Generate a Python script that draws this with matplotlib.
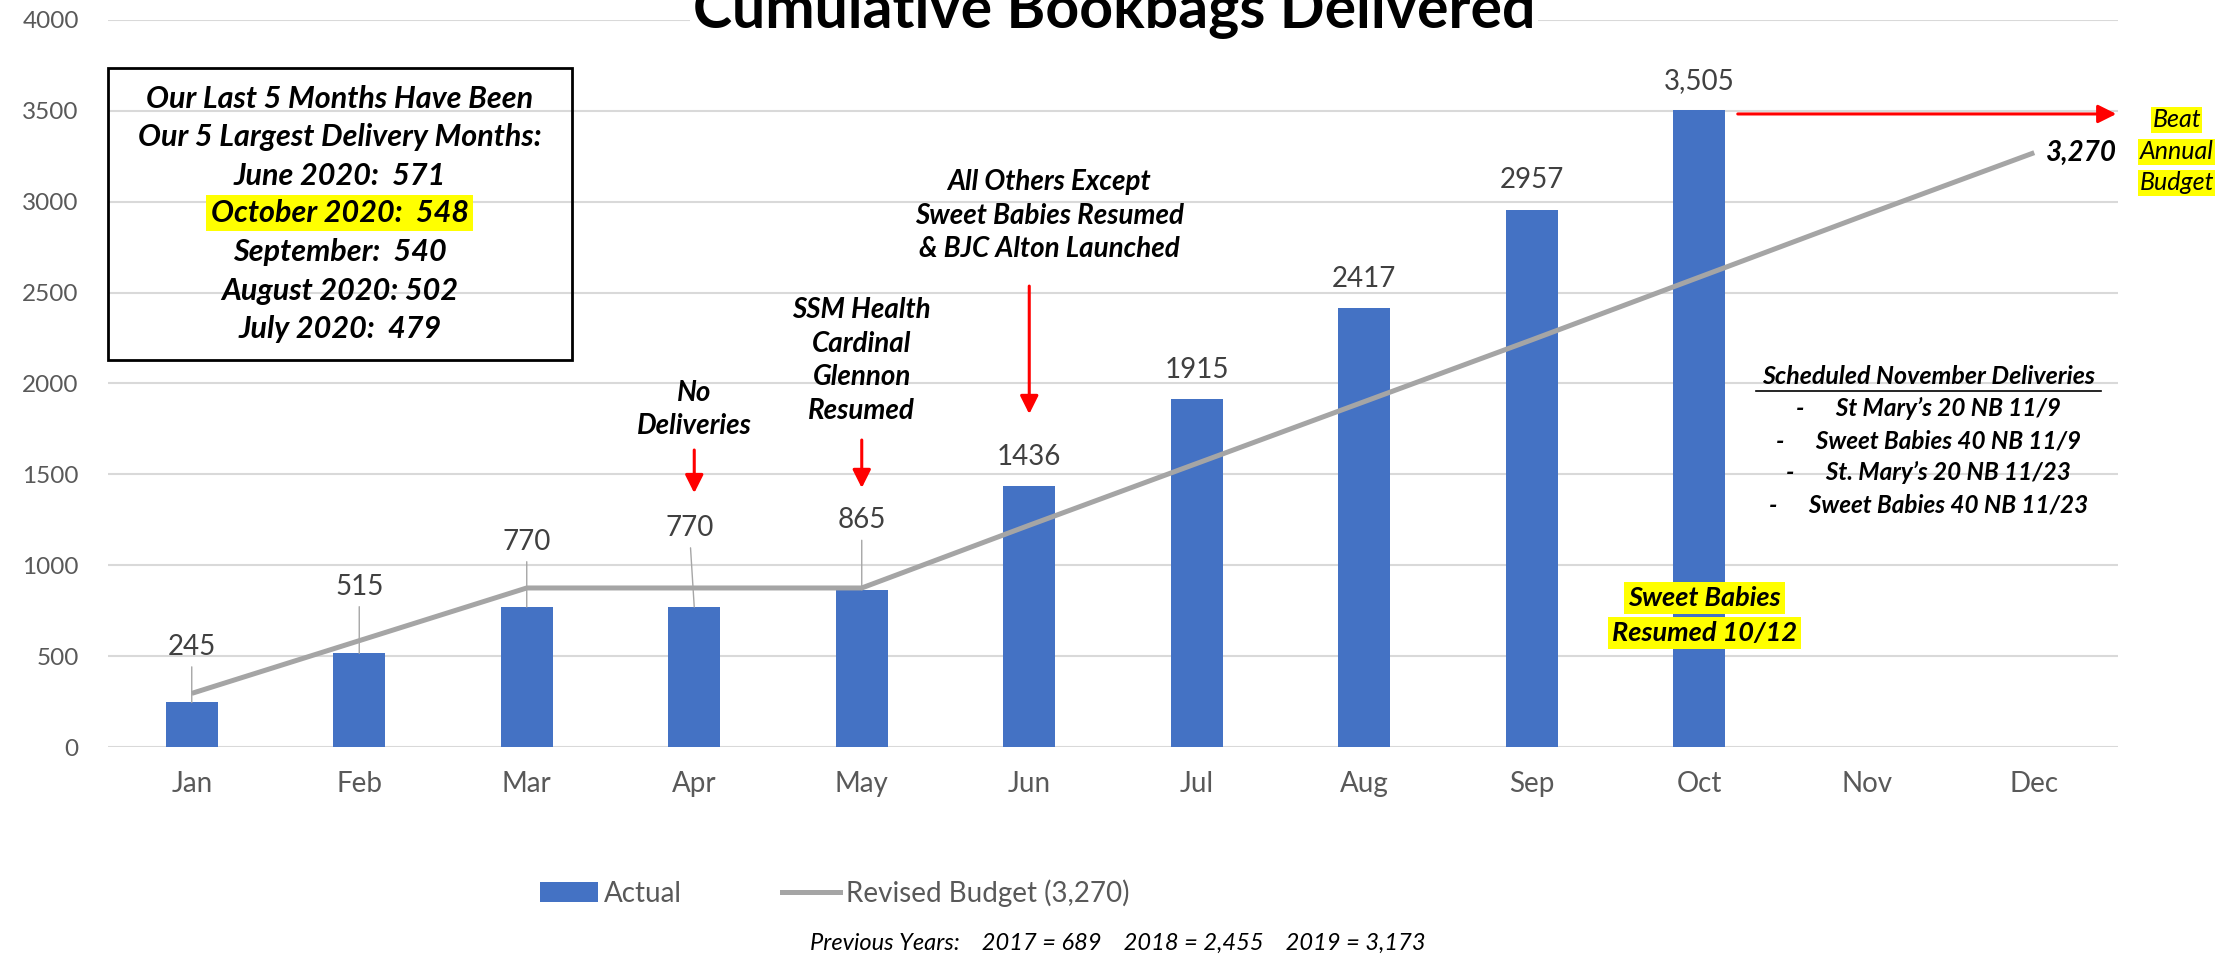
import matplotlib
matplotlib.use("Agg")
import matplotlib.pyplot as plt
from matplotlib.patches import Rectangle, Patch
from matplotlib.lines import Line2D

plt.rcParams['font.family'] = ['Lato', 'DejaVu Sans']

# data
months = ['Jan', 'Feb', 'Mar', 'Apr', 'May', 'Jun', 'Jul', 'Aug', 'Sep', 'Oct', 'Nov', 'Dec']
actual = [245, 515, 770, 770, 865, 1436, 1915, 2417, 2957, 3505]
actual_labels = ['245', '515', '770', '770', '865', '1436', '1915', '2417', '2957', '3,505']
budget = [295, 585, 875, 875, 875, 1220, 1560, 1900, 2240, 2585, 2930, 3270]
budget_total = '3,270'

box_lines = ['Our Last 5 Months Have Been', 'Our 5 Largest Delivery Months:',
             'June 2020:  571', 'October 2020:  548', 'September:  540',
             'August 2020: 502', 'July 2020:  479']
highlight_line = 'October 2020:  548'
november_items = ["St Mary\u2019s 20 NB 11/9", "Sweet Babies 40 NB 11/9",
                  "St. Mary\u2019s 20 NB 11/23", "Sweet Babies 40 NB 11/23"]
previous_years = 'Previous Years:    2017 = 689    2018 = 2,455    2019 = 3,173'

BLUE = '#4472C4'
GRAY = '#A5A5A5'
TXT = '#595959'
W, H = 2239, 955


def fx(px):
    return px / W


def fy(py):
    return 1 - py / H


fig = plt.figure(figsize=(W / 100, H / 100), dpi=100)
ax = fig.add_axes([fx(108), fy(747), (2118 - 108) / W, (747 - 20) / H])

x = list(range(len(months)))
ax.bar(x[:len(actual)], actual, width=0.31, color=BLUE, zorder=2)
ax.plot(x, budget, color=GRAY, lw=3.6, zorder=3, solid_capstyle='butt')

ax.set_xlim(-0.5, 11.5)
ax.set_ylim(0, 4000)
ax.set_yticks(range(0, 4001, 500))
ax.set_xticks(x)
ax.set_xticklabels(months)
ax.yaxis.grid(True, color='#D9D9D9', lw=1.5)
ax.set_axisbelow(True)
for s in ax.spines.values():
    s.set_visible(False)
ax.tick_params(axis='both', length=0, labelsize=20, labelcolor=TXT)
ax.tick_params(axis='y', pad=21, labelsize=17.5)
ax.tick_params(axis='x', pad=17)

# data labels: first five have leader lines
leader_off = [40, 48, 47, 57, 50]
leader_dx = [0, 0, 0, -3, 0]
for i, v in enumerate(actual):
    if i < len(leader_off):
        ax.annotate(actual_labels[i], xy=(i, v), xytext=(leader_dx[i], leader_off[i]),
                    textcoords='offset points', ha='center', va='center',
                    fontsize=20, color='#404040',
                    arrowprops=dict(arrowstyle='-', color='#A6A6A6', lw=1,
                                    relpos=(0.5, 0), shrinkA=3, shrinkB=0))
    else:
        ax.annotate(actual_labels[i], xy=(i, v), xytext=(0, 21),
                    textcoords='offset points', ha='center', va='center',
                    fontsize=20, color='#404040')

# title (cut at top like the original)
fig.text(fx(1114), fy(28), 'Cumulative Bookbags Delivered', ha='center', va='baseline',
         fontsize=42.5, fontweight='bold', color='black',
         bbox=dict(facecolor='white', edgecolor='none', pad=2))

# left box
ax.add_patch(Rectangle((-0.5, 2129), 2.77, 3736 - 2129, fill=False, ec='black', lw=2,
                       zorder=4, clip_on=False))
box_y = [3565, 3356, 3142, 2938, 2723, 2509, 2300]
for line, yy in zip(box_lines, box_y):
    kw = {}
    if line == highlight_line:
        kw['bbox'] = dict(facecolor='yellow', edgecolor='none', pad=3)
    ax.text(0.884, yy, line, ha='center', va='center', fontsize=22,
            fontweight='bold', style='italic', zorder=5, **kw)

arrow_kw = dict(arrowstyle='-|>,head_length=0.5,head_width=0.25', color='red',
                lw=2.2, mutation_scale=22, shrinkA=0, shrinkB=0)

# annotations with red arrows
ax.text(3, 1857, 'No\nDeliveries', ha='center', va='center', fontsize=20,
        fontweight='bold', style='italic', linespacing=1.3)
ax.annotate('', xy=(3, 1397), xytext=(3, 1634), arrowprops=arrow_kw)

ax.text(4, 2127, 'SSM Health\nCardinal\nGlennon\nResumed', ha='center', va='center',
        fontsize=20, fontweight='bold', style='italic', linespacing=1.37)
ax.annotate('', xy=(4, 1425), xytext=(4, 1689), arrowprops=arrow_kw)

ax.text(5.12, 2924, 'All Others Except\nSweet Babies Resumed\n& BJC Alton Launched',
        ha='center', va='center', fontsize=20, fontweight='bold', style='italic',
        linespacing=1.35)
ax.annotate('', xy=(5, 1832), xytext=(5, 2536), arrowprops=arrow_kw)

ax.annotate('', xy=(11.49, 3483), xytext=(9.23, 3483), arrowprops=arrow_kw,
            annotation_clip=False)

ax.annotate(budget_total, xy=(11, budget[-1]), xytext=(11.07, budget[-1]),
            textcoords='data', ha='left', va='center', fontsize=20,
            fontweight='bold', style='italic', annotation_clip=False)

for yy, line in zip([3450, 3274, 3104], ['Beat', 'Annual', 'Budget']):
    ax.text(11.85, yy, line, ha='center', va='center', fontsize=18, style='italic',
            clip_on=False, bbox=dict(facecolor='yellow', edgecolor='none', pad=1))

# november schedule
ax.text(10.37, 2036, 'Scheduled November Deliveries', ha='center', va='center',
        fontsize=18, fontweight='bold', style='italic')
ax.plot([9.34, 11.4], [1960, 1960], color='black', lw=1.2, zorder=5)
for yy, item in zip([1860, 1684, 1508, 1332], november_items):
    ax.text(10.37, yy, '-      ' + item, ha='center', va='center', fontsize=17.5,
            fontweight='bold', style='italic')

# sweet babies note
for yy, line in zip([820, 627], ['Sweet Babies', 'Resumed 10/12']):
    ax.text(9.03, yy, line, ha='center', va='center', fontsize=19.5, fontweight='bold',
            style='italic', zorder=5,
            bbox=dict(facecolor='yellow', edgecolor='none', pad=3))

# legend
handles = [Patch(facecolor=BLUE, edgecolor='none'),
           Line2D([0], [0], color=GRAY, lw=3.6)]
fig.legend(handles, ['Actual', 'Revised Budget (' + budget_total + ')'],
           loc='center left', bbox_to_anchor=(fx(515), fy(893)), ncol=2,
           frameon=False, fontsize=20, labelcolor=TXT, handlelength=2.1,
           handletextpad=0.2, columnspacing=3.6)

fig.text(fx(1118), fy(943), previous_years, ha='center', va='center', fontsize=17,
         style='italic')

fig.savefig('out.png', dpi=100)
